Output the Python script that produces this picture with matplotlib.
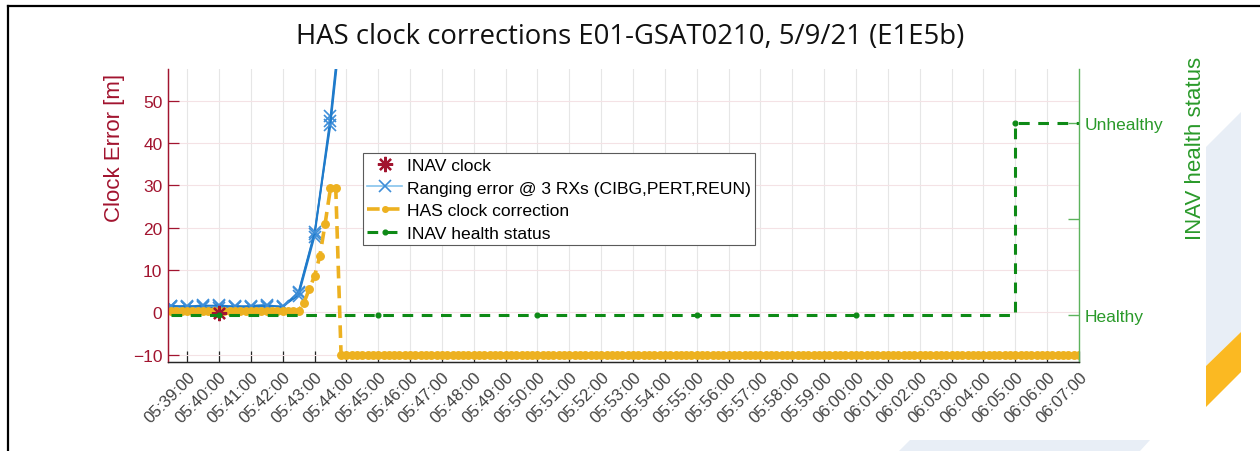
"""HAS clock corrections for E01-GSAT0210 on 5/9/21 (E1E5b)."""

import matplotlib

matplotlib.use("Agg")
import matplotlib.dates as mdates
import matplotlib.pyplot as plt
import pandas as pd
from matplotlib.patches import Polygon

DAY = "2021-05-09 "

# INAV clock (only one sample falls in view)
CLOCK_TIMES = ["05:40:00"]
CLOCK_VALUES = [-0.2]

# ranging error seen by the three receivers
RX_TIMES = ["05:38:30", "05:39:00", "05:39:30", "05:40:00", "05:40:30", "05:41:00",
            "05:41:30", "05:42:00", "05:42:30", "05:43:00", "05:43:30", "05:44:00"]
RX_CIBG = [1.6, 1.4, 1.7, 1.5, 1.3, 1.6, 1.8, 1.2, 4.6, 18.6, 46.3, 82.0]
RX_PERT = [1.3, 1.6, 1.2, 1.0, 1.6, 1.3, 1.4, 1.5, 4.0, 17.9, 45.3, 80.5]
RX_REUN = [1.5, 1.2, 1.5, 1.7, 1.4, 1.2, 1.6, 1.3, 4.9, 18.9, 44.2, 79.0]

# HAS clock correction, 10 s samples
HAS_LEAD_START, HAS_LEAD_END, HAS_LEAD_VALUE = "05:38:30", "05:42:30", 0.4
HAS_RAMP_TIMES = ["05:42:40", "05:42:50", "05:43:00", "05:43:10", "05:43:20", "05:43:30", "05:43:40"]
HAS_RAMP_VALUES = [2.3, 5.5, 8.6, 13.3, 21.0, 29.3, 29.3]
HAS_TAIL_START, HAS_TAIL_END, HAS_TAIL_VALUE = "05:43:50", "06:07:00", -10.0

# INAV health status (0 = healthy, 1 = unhealthy)
HEALTH_TIMES = ["05:38:30", "05:40:00", "05:45:00", "05:50:00", "05:55:00",
                "06:00:00", "06:05:00", "06:07:00"]
HEALTH_VALUES = [0, 0, 0, 0, 0, 0, 1, 1]
HEALTH_LABELS = ["Healthy", "", "Unhealthy"]

X_START, X_END = "05:38:24", "06:07:00"

RED = "#A2142F"
BLUE = "#1F7BCB"
LIGHT_BLUE = "#86C3EC"
ORANGE = "#EDB120"
GREEN = "#0E8A16"
GREEN_TXT = "#2A9A2A"
GREEN_AXIS = "#5DB35D"
TICK_GRAY = "#404040"

W, H = 1260, 452


def t(s):
    return pd.to_datetime(DAY + s)


def ts(values):
    return [t(v) for v in values]


def px(x, y):
    return (x / W, 1 - y / H)


plt.rcParams["font.family"] = ["Liberation Sans", "DejaVu Sans"]

fig = plt.figure(figsize=(W / 100, H / 100), dpi=100)
ax = fig.add_axes([168 / W, 1 - 363 / H, (1079 - 168) / W, (363 - 70) / H])
ax2 = ax.twinx()

# left axis: clock error
ax.plot(ts(CLOCK_TIMES), CLOCK_VALUES, linestyle="none", marker=(8, 2, 0), color=RED,
        markersize=11, markeredgewidth=1.6, label="INAV clock", zorder=5)

rx_lines = []
for vals in (RX_CIBG, RX_PERT, RX_REUN):
    (ln,) = ax.plot(ts(RX_TIMES), vals, color=BLUE, lw=1.2, marker="x", markersize=8,
                    markeredgewidth=1.2, markeredgecolor="#3E8ED8", zorder=3)
    rx_lines.append(ln)
rx_lines[0].set_label("Ranging error @ 3 RXs (CIBG,PERT,REUN)")

lead = pd.date_range(t(HAS_LEAD_START), t(HAS_LEAD_END), freq="10s")
tail = pd.date_range(t(HAS_TAIL_START), t(HAS_TAIL_END), freq="10s")
has_times = list(lead) + ts(HAS_RAMP_TIMES) + list(tail)
has_values = [HAS_LEAD_VALUE] * len(lead) + HAS_RAMP_VALUES + [HAS_TAIL_VALUE] * len(tail)
ax.plot(has_times, has_values, color=ORANGE, lw=2.6, linestyle=(0, (3.5, 2)), marker="o",
        markersize=5.4, label="HAS clock correction", zorder=4)

# right axis: health status
ax2.plot(ts(HEALTH_TIMES), HEALTH_VALUES, color=GREEN, lw=2.2, linestyle=(0, (3.5, 2.8)),
         drawstyle="steps-post", marker="o", markersize=3.4,
         markevery=list(range(1, len(HEALTH_TIMES) - 1)), label="INAV health status")

ax.set_xlim(t(X_START), t(X_END))
ax.set_ylim(-11.7, 57.5)
ax2.set_ylim(-0.245, 1.283)

ax.set_yticks([-10, 0, 10, 20, 30, 40, 50])
ax2.set_yticks([0, 0.5, 1])
ax2.set_yticklabels(HEALTH_LABELS)

ax.xaxis.set_major_locator(mdates.MinuteLocator())
ax.xaxis.set_major_formatter(mdates.DateFormatter("%H:%M:%S"))
for lab in ax.get_xticklabels():
    lab.set_rotation(45)
    lab.set_ha("right")
    lab.set_rotation_mode("anchor")

ax.tick_params(axis="x", direction="in", length=8, width=0.9, color="#262626",
               labelcolor=TICK_GRAY, labelsize=12, pad=5)
ax.tick_params(axis="y", direction="in", length=8, width=0.9, color=RED,
               labelcolor=RED, labelsize=12.5, pad=4)
ax2.tick_params(axis="y", direction="in", length=8, width=1.0, color=GREEN_AXIS,
                labelcolor=GREEN_TXT, labelsize=12.5, pad=4)

ax.grid(axis="x", color="#E6E6E6", lw=0.8)
ax.grid(axis="y", color="#F4E2E5", lw=0.8)
ax.set_axisbelow(True)

for a in (ax, ax2):
    a.spines["top"].set_visible(False)
    a.spines["left"].set_color(RED)
    a.spines["bottom"].set_color("#262626")
    for s in a.spines.values():
        s.set_linewidth(0.9)
ax.spines["right"].set_visible(False)
ax2.spines["right"].set_color(GREEN_AXIS)
ax2.spines["right"].set_linewidth(1.0)

ax.set_ylabel("Clock Error [m]", color=RED, fontsize=16)
ax.yaxis.set_label_coords(-0.047, 0.734)
ax2.set_ylabel("INAV health status", color=GREEN_TXT, fontsize=16)
ax2.yaxis.set_label_coords(1.116, 0.734)

handles = [ax.get_lines()[0], rx_lines[0], ax.get_lines()[-1], ax2.get_lines()[0]]
leg = ax2.legend(handles=handles, loc="upper left", bbox_to_anchor=(0.214, 0.712),
                 borderaxespad=0, fontsize=12.6, frameon=True, fancybox=False,
                 edgecolor="#5A5A5A", framealpha=1, handlelength=2.0, handletextpad=0.25,
                 labelspacing=0.42, borderpad=0.25)
leg.get_frame().set_linewidth(0.8)
rx_handle = leg.legend_handles[1]
rx_handle.set_color(LIGHT_BLUE)
rx_handle.set_markeredgecolor("#3E8ED8")
leg.legend_handles[2].set_markersize(4)

fig.text(0.5, 1 - 37 / H, "HAS clock corrections E01-GSAT0210, 5/9/21 (E1E5b)",
         ha="center", va="center", fontsize=19.8, family=["Open Sans", "DejaVu Sans"],
         color="#111111")

# slide decorations around the figure
fig.add_artist(Polygon([px(1206, 148), px(1241, 113), px(1241, 333), px(1206, 367)],
                       closed=True, transform=fig.transFigure, color="#E8EEF6", lw=0))
fig.add_artist(Polygon([px(1206, 367), px(1241, 333), px(1241, 373), px(1206, 408)],
                       closed=True, transform=fig.transFigure, color="#FBB922", lw=0))
fig.add_artist(Polygon([px(910, 441), px(1150, 441), px(1140, 452), px(899, 452)],
                       closed=True, transform=fig.transFigure, color="#E8EEF6", lw=0))
fig.add_artist(plt.Line2D([8 / W, 1], [1 - 7 / H, 1 - 7 / H], transform=fig.transFigure,
                          color="black", lw=1.6))
fig.add_artist(plt.Line2D([8 / W, 8 / W], [0, 1 - 7 / H], transform=fig.transFigure,
                          color="black", lw=1.6))

fig.savefig("out.png", dpi=100)
